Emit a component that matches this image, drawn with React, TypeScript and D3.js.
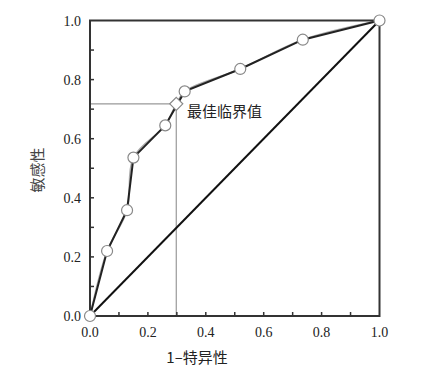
import React from "react";
import * as d3 from "d3";

const fprX = [0, 0.059, 0.128, 0.15, 0.26, 0.327, 0.519, 0.735, 1];
const tprY = [0, 0.22, 0.358, 0.536, 0.645, 0.76, 0.836, 0.935, 1];
const smoothX = [0, 0.059, 0.128, 0.15, 0.26, 0.298, 0.327, 0.519, 0.735, 1];
const smoothY = [0, 0.22, 0.358, 0.536, 0.645, 0.718, 0.76, 0.836, 0.935, 1];
const bestPoint = { x: 0.298, y: 0.718, label: "最佳临界值" };
const majorTicks = [0, 0.2, 0.4, 0.6, 0.8, 1.0];
const minorTicks = [0.1, 0.3, 0.5, 0.7, 0.9];
const xTitle = "1–特异性";
const yTitle = "敏感性";

export default function App() {
  const W = 431, H = 371;
  const x = d3.scaleLinear().domain([0, 1]).range([90, 379.5]);
  const y = d3.scaleLinear().domain([0, 1]).range([316, 20.5]);
  const pts = fprX.map((v, i) => [x(v), y(tprY[i])] as [number, number]);
  const spts = smoothX.map((v, i) => [x(v), y(smoothY[i])] as [number, number]);
  const dark = d3.line().curve(d3.curveLinear)(pts) || "";
  const smooth = d3.line().curve(d3.curveCatmullRom.alpha(0.5))(spts) || "";
  const serif = "'Liberation Serif', 'DejaVu Serif', serif";
  const cjk = "'Noto Sans CJK SC', sans-serif";
  const bx = x(bestPoint.x), by = y(bestPoint.y);
  const ds = 6.5;
  return (
    <svg width={W} height={H} style={{ position: "absolute", left: 0, top: 0, background: "#fff" }}>
      {/* reference lines */}
      <line x1={x(0)} y1={by} x2={bx} y2={by} stroke="#999" strokeWidth={1.2} />
      <line x1={bx} y1={by} x2={bx} y2={y(0)} stroke="#999" strokeWidth={1.2} />
      {/* diagonal */}
      <line x1={x(0)} y1={y(0)} x2={x(1)} y2={y(1)} stroke="#111" strokeWidth={2} />
      {/* curves */}
      <path d={smooth} fill="none" stroke="#aaa" strokeWidth={1.6} />
      <path d={dark} fill="none" stroke="#222" strokeWidth={2} />
      {/* frame */}
      <rect x={x(0)} y={y(1)} width={x(1) - x(0)} height={y(0) - y(1)} fill="none" stroke="#333" strokeWidth={2} />
      {/* ticks */}
      {[...majorTicks.slice(1, -1), ...minorTicks].map((t, i) => (
        <g key={"t" + i}>
          <line x1={x(t)} y1={y(0)} x2={x(t)} y2={y(0) - 4} stroke="#333" strokeWidth={1.5} />
          <line x1={x(0)} y1={y(t)} x2={x(0) + 4} y2={y(t)} stroke="#333" strokeWidth={1.5} />
        </g>
      ))}
      {majorTicks.map((t, i) => (
        <g key={"l" + i}>
          <text x={x(t)} y={337} textAnchor="middle" fontFamily={serif} fontSize={14} fill="#222">
            {t.toFixed(1)}
          </text>
          <text x={81} y={y(t) + 5} textAnchor="end" fontFamily={serif} fontSize={14} fill="#222">
            {t.toFixed(1)}
          </text>
        </g>
      ))}
      {/* markers */}
      {pts.map((p, i) => (
        <circle key={"c" + i} cx={p[0]} cy={p[1]} r={5.5} fill="#fff" stroke="#888" strokeWidth={1.2} />
      ))}
      <path
        d={`M${bx},${by - ds}L${bx + ds},${by}L${bx},${by + ds}L${bx - ds},${by}Z`}
        fill="#fff"
        stroke="#888"
        strokeWidth={1.2}
      />
      <text x={187} y={117} fontFamily={cjk} fontSize={15} fill="#222">{bestPoint.label}</text>
      <text x={197} y={363} textAnchor="middle" fontFamily={cjk} fontSize={15} fill="#222">{xTitle}</text>
      <text transform={`translate(43,170) rotate(-90)`} textAnchor="middle" fontFamily={cjk} fontSize={15} fill="#444">
        {yTitle}
      </text>
    </svg>
  );
}
